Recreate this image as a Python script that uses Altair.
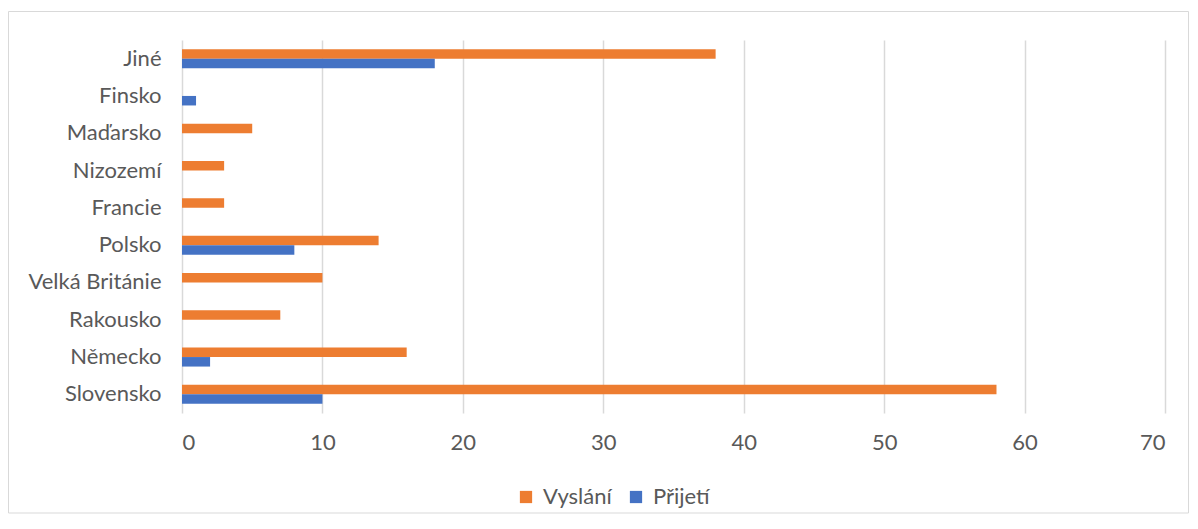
import altair as alt
import pandas as pd

countries = ["Jiné", "Finsko", "Maďarsko", "Nizozemí", "Francie", "Polsko",
             "Velká Británie", "Rakousko", "Německo", "Slovensko"]
vyslani = [38, 0, 5, 3, 3, 14, 10, 7, 16, 58]
prijeti = [18, 1, 0, 0, 0, 8, 0, 0, 2, 10]
series = ["Vyslání", "Přijetí"]
colors = ["#ED7D31", "#4472C4"]
x_ticks = [0, 10, 20, 30, 40, 50, 60, 70]

rows = []
for c, v, p in zip(countries, vyslani, prijeti):
    rows.append({"country": c, "series": series[0], "value": v})
    rows.append({"country": c, "series": series[1], "value": p})
df = pd.DataFrame(rows)

FONT = "Lato"
FS = 22
W, H = 983, 373

bars = alt.Chart(df).mark_bar().encode(
    x=alt.X("value:Q", scale=alt.Scale(domain=[0, 70], nice=False),
            axis=alt.Axis(values=x_ticks, title=None, grid=True, gridColor="#D9D9D9",
                          gridWidth=1.5, domain=False, ticks=False, labelFontSize=FS,
                          labelColor="#595959", labelFont=FONT, labelPadding=19)),
    y=alt.Y("country:N", sort=countries,
            scale=alt.Scale(paddingInner=0.49, paddingOuter=0.245),
            axis=alt.Axis(title=None, domain=False, ticks=False, labelFontSize=FS,
                          labelColor="#595959", labelFont=FONT, labelPadding=21)),
    yOffset=alt.YOffset("series:N", sort=series, scale=alt.Scale(paddingInner=0, paddingOuter=0)),
    color=alt.Color("series:N", sort=series,
                    scale=alt.Scale(domain=series, range=colors),
                    legend=alt.Legend(title=None, orient="none", direction="horizontal",
                                      legendX=333, legendY=446, symbolType="square",
                                      symbolSize=150, symbolStrokeWidth=0,
                                      labelFontSize=FS, labelColor="#595959",
                                      labelFont=FONT, columnPadding=13, symbolOffset=0,
                                      labelOffset=6)),
)

border = alt.Chart(pd.DataFrame({"k": [0]})).mark_rect(
    fill=None, stroke="#D9D9D9", strokeWidth=1, clip=False
).encode(x=alt.value(-173.5), x2=alt.value(W + 23.5), y=alt.value(-28.5), y2=alt.value(H + 100))

chart = alt.layer(border, bars).properties(
    width=W, height=H,
    autosize=alt.AutoSizeParams(type="none"),
    padding={"left": 174, "top": 32, "right": 24, "bottom": 102},
).configure(background="white").configure_view(stroke=None)

chart.save("out.html", embed_options={"renderer": "svg", "actions": False})
